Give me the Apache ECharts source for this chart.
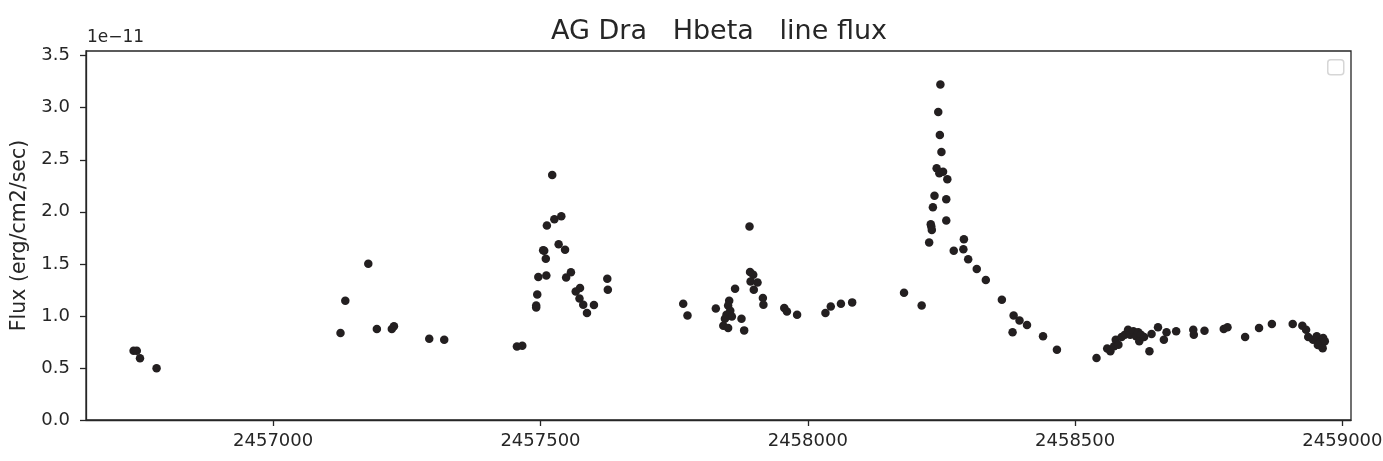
<!DOCTYPE html>
<html>
<head>
<meta charset="utf-8">
<title>AG Dra Hbeta line flux</title>
<script src="https://cdn.jsdelivr.net/npm/echarts@6/dist/echarts.min.js"></script>
<style>
  html, body { margin: 0; padding: 0; background: #ffffff; }
  #chart { width: 1383px; height: 461px; }
</style>
</head>
<body>
<div id="chart"></div>
<script>
// Observation epochs (JD) and H-beta line flux in units of 1e-11 erg/cm2/sec
const jd = [
  2456739, 2456745, 2456751, 2456782,
  2457126, 2457135, 2457178, 2457194, 2457222, 2457226, 2457292, 2457320,
  2457456, 2457466,
  2457522, 2457512, 2457526, 2457539, 2457534, 2457546, 2457507, 2457505, 2457510,
  2457496, 2457511, 2457494, 2457492, 2457492, 2457548, 2457557, 2457574, 2457566,
  2457573, 2457580, 2457587, 2457600, 2457625, 2457626,
  2457767, 2457775, 2457828, 2457864, 2457891, 2457892, 2457898, 2457893, 2457906,
  2457899, 2457916, 2457917, 2457853, 2457851, 2457855, 2457848, 2457858, 2457845,
  2457842, 2457851, 2457876, 2457881, 2457956, 2457961, 2457980, 2458033, 2458043,
  2458062, 2458083,
  2458180, 2458213,
  2458248, 2458244, 2458247, 2458250, 2458241, 2458246, 2458253, 2458261, 2458237,
  2458259, 2458234, 2458259, 2458230, 2458231, 2458232, 2458227, 2458292, 2458291,
  2458273, 2458300, 2458316, 2458333, 2458363, 2458385, 2458396, 2458410, 2458383,
  2458440, 2458466,
  2458540, 2458560, 2458566, 2458573, 2458576, 2458581, 2458587, 2458593, 2458599,
  2458603, 2458609, 2458614, 2458618, 2458623, 2458620, 2458629, 2458639, 2458643,
  2458655, 2458666, 2458671, 2458689, 2458721, 2458722, 2458742, 2458778, 2458785,
  2458818, 2458844, 2458868, 2458907, 2458925, 2458932, 2458936, 2458945, 2458952,
  2458957, 2458961, 2458964, 2458967, 2458954, 2458963
];
const flux = [
  0.666, 0.666, 0.593, 0.497,
  0.836, 1.146, 1.500, 0.874, 0.874, 0.900, 0.780, 0.770,
  0.707, 0.714,
  2.354, 1.868, 1.929, 1.958, 1.689, 1.635, 1.625, 1.630, 1.550,
  1.373, 1.389, 1.206, 1.100, 1.080, 1.369, 1.420, 1.267, 1.235,
  1.168, 1.107, 1.028, 1.104, 1.357, 1.251,
  1.117, 1.005, 1.072, 1.261, 1.858, 1.421, 1.395, 1.331, 1.321,
  1.251, 1.171, 1.107, 1.146, 1.100, 1.050, 1.011, 0.995, 0.973,
  0.906, 0.884, 0.973, 0.861, 1.076, 1.043, 1.011, 1.028, 1.091,
  1.117, 1.130,
  1.222, 1.101,
  3.223, 2.958, 2.737, 2.574, 2.418, 2.370, 2.385, 2.312, 2.155,
  2.121, 2.044, 1.916, 1.881, 1.858, 1.826, 1.705, 1.737, 1.641,
  1.625, 1.545, 1.450, 1.344, 1.155, 1.005, 0.957, 0.913, 0.842,
  0.804, 0.676,
  0.596, 0.686, 0.660, 0.708, 0.772, 0.724, 0.798, 0.820, 0.868,
  0.820, 0.852, 0.804, 0.842, 0.820, 0.756, 0.798, 0.660, 0.826,
  0.890, 0.772, 0.842, 0.852, 0.868, 0.820, 0.858, 0.874, 0.890,
  0.798, 0.884, 0.922, 0.922, 0.906, 0.868, 0.798, 0.772, 0.804,
  0.740, 0.708, 0.788, 0.756, 0.720, 0.690
];

// Axis tick positions and their labels
const xTicks = [2457000, 2457500, 2458000, 2458500, 2459000];
const yTicks = [0.0, 0.5, 1.0, 1.5, 2.0, 2.5, 3.0, 3.5];
const yOffsetText = '1e\u221211';
const titleText = 'AG Dra   Hbeta   line flux';
const yName = 'Flux (erg/cm2/sec)';

const points = jd.map((t, i) => [t, flux[i]]);

const FONT = '"DejaVu Sans", "Liberation Sans", sans-serif';
const INK = '#262626';

const chart = echarts.init(document.getElementById('chart'), null, { renderer: 'canvas' });

chart.setOption({
  animation: false,
  backgroundColor: '#ffffff',
  title: {
    text: titleText,
    left: 714,
    top: 13,
    textAlign: 'center',
    textStyle: { fontFamily: FONT, fontSize: 27, fontWeight: 'normal', color: INK }
  },
  grid: {
    left: 86, right: 32, top: 51, bottom: 41,
    outerBoundsMode: 'none',
    containLabel: false,
    show: true, borderColor: INK, borderWidth: 1.3, backgroundColor: 'transparent'
  },
  xAxis: {
    type: 'value',
    min: 2456650,
    max: 2459016,
    splitLine: { show: false },
    axisLine: { show: true, onZero: false, lineStyle: { color: INK, width: 1.3 } },
    axisTick: { show: true, length: 6, lineStyle: { color: INK, width: 1.3 }, customValues: xTicks },
    axisLabel: {
      customValues: xTicks,
      formatter: v => String(v),
      fontFamily: FONT, fontSize: 18, color: INK, margin: 12
    }
  },
  yAxis: {
    type: 'value',
    min: 0,
    max: 3.545,
    name: yName,
    nameLocation: 'middle',
    nameGap: 55,
    nameTextStyle: { fontFamily: FONT, fontSize: 20.5, color: INK },
    splitLine: { show: false },
    axisLine: { show: true, onZero: false, lineStyle: { color: INK, width: 1.3 } },
    axisTick: { show: true, length: 6, lineStyle: { color: INK, width: 1.3 }, customValues: yTicks },
    axisLabel: {
      customValues: yTicks,
      formatter: v => v.toFixed(1),
      fontFamily: FONT, fontSize: 18, color: INK, margin: 16
    }
  },
  graphic: [
    {
      type: 'text',
      left: 87,
      top: 29,
      style: { text: yOffsetText, font: '17px ' + FONT, fill: INK }
    },
    {
      // empty legend frame in the upper right corner
      type: 'rect',
      left: 1327,
      top: 59,
      shape: { width: 16, height: 15, r: 3 },
      style: { fill: '#ffffff', stroke: '#d6d6d6', lineWidth: 1.5 }
    }
  ],
  series: [
    {
      type: 'scatter',
      data: points,
      symbol: 'circle',
      symbolSize: 8.5,
      itemStyle: { color: '#231f20', opacity: 1 },
      emphasis: { disabled: true }
    }
  ]
});
</script>
</body>
</html>
